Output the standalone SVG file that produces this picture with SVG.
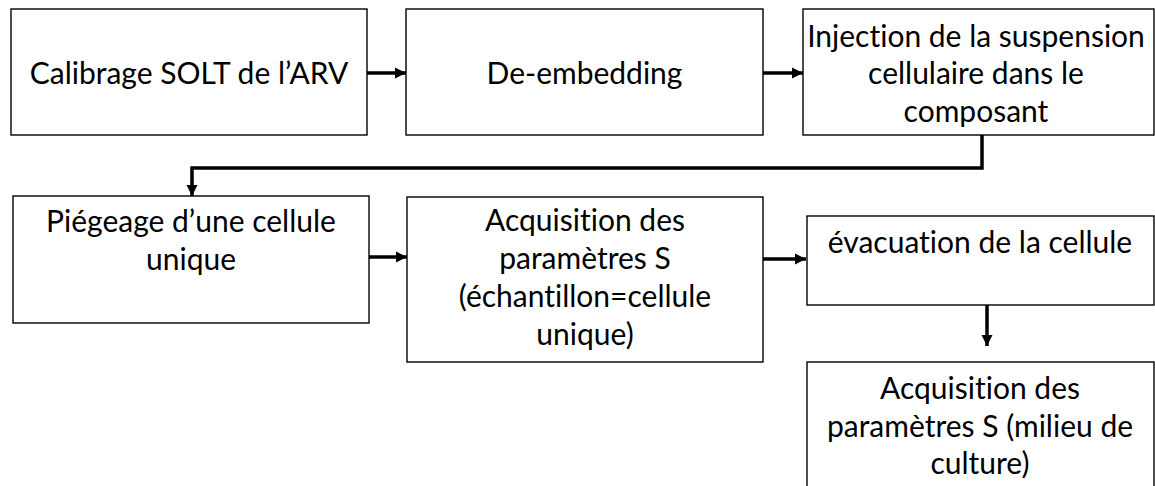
<svg xmlns="http://www.w3.org/2000/svg" width="1155" height="486" viewBox="0 0 1155 486">
<style>
.box{fill:#fff;stroke:#000;stroke-width:1.4}
.t{font-family:Lato,"Open Sans","Liberation Sans",sans-serif;font-size:30px;fill:#000;text-anchor:middle;font-variant-ligatures:none}
.c{fill:none;stroke:#000;stroke-width:3.5;marker-end:url(#ah)}
</style>
<defs>
<marker id="ah" markerUnits="userSpaceOnUse" markerWidth="12" markerHeight="12" refX="11" refY="6" orient="auto" viewBox="0 0 12 12">
<path d="M0,0.5 L11,6 L0,11.5 z" fill="#000"/>
</marker>
</defs>
<rect width="1155" height="486" fill="#fff"/>
<g id="connectors">
<path class="c" d="M367,73 H406"/>
<path class="c" d="M763,73 H803"/>
<path class="c" d="M982,135 V168 H192 V196"/>
<path class="c" d="M369,257 H407"/>
<path class="c" d="M763,259 H806"/>
<path class="c" d="M987,305 V346"/>
</g>
<g id="n1"><rect class="box" x="11" y="9" width="356" height="126"/>
<text class="t" x="189" y="84">Calibrage SOLT de l’ARV</text></g>
<g id="n2"><rect class="box" x="406" y="9" width="357" height="126"/>
<text class="t" x="584.5" y="84">De-embedding</text></g>
<g id="n3"><rect class="box" x="803" y="9" width="351" height="126"/>
<text class="t"><tspan x="976" y="47">Injection de la suspension</tspan><tspan x="976" y="84">cellulaire dans le</tspan><tspan x="976" y="122">composant</tspan></text></g>
<g id="n4"><rect class="box" x="13" y="196" width="356" height="127"/>
<text class="t"><tspan x="191" y="232">Piégeage d’une cellule</tspan><tspan x="191" y="270">unique</tspan></text></g>
<g id="n5"><rect class="box" x="407" y="197" width="356" height="165"/>
<text class="t"><tspan x="585" y="231">Acquisition des</tspan><tspan x="585" y="269">paramètres S</tspan><tspan x="585" y="307">(échantillon=cellule</tspan><tspan x="585" y="345">unique)</tspan></text></g>
<g id="n6"><rect class="box" x="807" y="216" width="347" height="89"/>
<text class="t" x="980" y="253">évacuation de la cellule</text></g>
<g id="n7"><rect class="box" x="807" y="362" width="347" height="140"/>
<text class="t"><tspan x="980" y="399">Acquisition des</tspan><tspan x="980" y="437">paramètres S (milieu de</tspan><tspan x="980" y="474">culture)</tspan></text></g>
</svg>
